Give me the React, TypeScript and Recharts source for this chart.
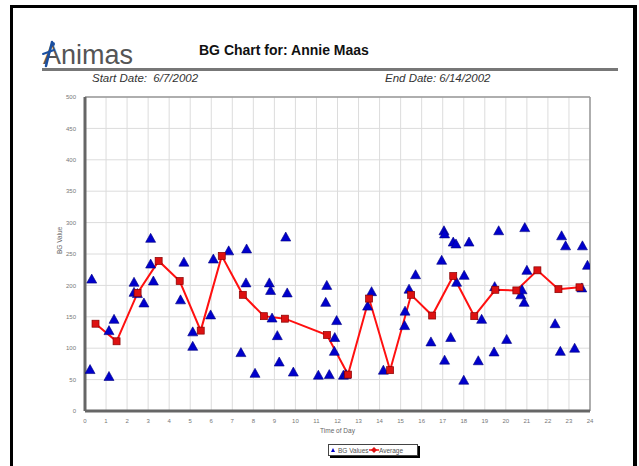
import React from "react";
import {
  ComposedChart,
  Scatter,
  Line,
  XAxis,
  YAxis,
  CartesianGrid,
  ReferenceLine,
} from "recharts";

const bgTimes = [
  0.24, 0.32, 1.14, 1.14, 1.38, 2.33, 2.33, 2.49, 2.8, 3.12, 3.12, 3.25, 4.54, 4.7,
  5.12, 5.12, 5.97, 6.1, 6.83, 7.41, 7.65, 7.68, 8.08, 8.76, 8.82, 8.89, 9.14, 9.23,
  9.54, 9.61, 9.9, 11.09, 11.44, 11.49, 11.61, 11.85, 11.87, 11.96, 12.28, 12.4,
  13.43, 13.62, 14.18, 15.19, 15.21, 15.4, 15.71, 16.44, 16.95, 17.06, 17.09, 17.09,
  17.38, 17.5, 17.63, 17.66, 18.0, 18.02, 18.25, 18.69, 18.85, 19.44, 19.47, 19.66,
  20.04, 20.71, 20.77, 20.87, 20.9, 21.0, 22.34, 22.59, 22.65, 22.84, 23.27, 23.61,
  23.64, 23.88,
];
const bgValues = [
  66, 210, 55, 128, 146, 205, 189, 187, 172, 275, 234, 207, 177, 237,
  126, 103, 153, 242, 255, 93, 204, 258, 60, 204, 192, 148, 120, 78,
  277, 188, 62, 57, 173, 200, 58, 95, 117, 144, 57, 58,
  167, 190, 65, 136, 159, 194, 217, 110, 240, 287, 282, 81,
  117, 269, 266, 205, 49, 216, 269, 80, 146, 94, 198, 287,
  114, 185, 193, 173, 292, 224, 139, 95, 279, 263, 100, 196,
  263, 232,
];
const avgTimes = [
  0.5, 1.5, 2.5, 3.5, 4.5, 5.5, 6.5, 7.5, 8.5, 9.5, 11.5, 12.5, 13.5, 14.5, 15.5,
  16.5, 17.5, 18.5, 19.5, 20.5, 21.5, 22.5, 23.5,
];
const avgValues = [
  139, 111, 188, 239, 207, 128, 247, 185, 151, 147, 121, 58, 179, 65, 185,
  152, 215, 151, 193, 192, 224, 194, 197,
];
const xTicks = [
  0, 1, 2, 3, 4, 5, 6, 7, 8, 9, 10, 11, 12, 13, 14, 15, 16, 17, 18, 19, 20, 21, 22, 23, 24,
];
const yTicks = [0, 50, 100, 150, 200, 250, 300, 350, 400, 450, 500];

const bgData = bgTimes.map((h, i) => ({ h, v: bgValues[i] }));
const avgData = avgTimes.map((h, i) => ({ h, v: avgValues[i] }));

const Triangle = (props: any) => {
  const { cx, cy } = props;
  if (cx == null || cy == null) return null;
  return (
    <polygon
      points={`${cx},${cy - 5} ${cx - 5},${cy + 4} ${cx + 5},${cy + 4}`}
      fill="#0000cc"
      stroke="#000080"
      strokeWidth={0.6}
    />
  );
};

const SquareDot = (props: any) => {
  const { cx, cy, index } = props;
  if (cx == null || cy == null) return null;
  return (
    <rect
      key={`sq-${index}`}
      x={cx - 3.5}
      y={cy - 3.5}
      width={7}
      height={7}
      fill="#dd1111"
      stroke="#880000"
      strokeWidth={0.7}
    />
  );
};

const font = "'Liberation Sans', Arial, sans-serif";

export default function App() {
  return (
    <div
      style={{
        position: "absolute",
        left: 0,
        top: 0,
        width: 639,
        height: 466,
        background: "#fff",
        overflow: "hidden",
        fontFamily: font,
      }}
    >
      {/* frame */}
      <div style={{ position: "absolute", left: 10, top: 5, width: 627, height: 3, background: "#000" }} />
      <div style={{ position: "absolute", left: 10, top: 5, width: 3, height: 470, background: "#000" }} />
      <div style={{ position: "absolute", left: 633, top: 5, width: 4, height: 470, background: "#000" }} />

      {/* logo */}
      <svg style={{ position: "absolute", left: 38, top: 36 }} width={110} height={34}>
        <text x={5} y={28} fontFamily={font} fontSize={27} fill="#555">
          Animas
        </text>
        <path d="M14 6 L8 30" stroke="#1a4fa0" strokeWidth={2.5} strokeLinecap="round" />
        <path d="M5 18 L16 14" stroke="#1a4fa0" strokeWidth={2} strokeLinecap="round" />
        <circle cx={15} cy={8} r={2} fill="#1a4fa0" />
      </svg>

      {/* title */}
      <div
        style={{
          position: "absolute",
          left: 199,
          top: 42,
          fontSize: 14,
          fontWeight: "bold",
          color: "#111",
          whiteSpace: "nowrap",
        }}
      >
        BG Chart for: Annie Maas
      </div>

      {/* rule */}
      <div style={{ position: "absolute", left: 42, top: 68, width: 576, height: 3, background: "#777" }} />

      {/* dates */}
      <div
        style={{
          position: "absolute",
          left: 92,
          top: 72,
          fontSize: 11.5,
          fontStyle: "italic",
          color: "#333",
          whiteSpace: "pre",
        }}
      >
        {"Start Date:  6/7/2002"}
      </div>
      <div
        style={{
          position: "absolute",
          left: 385,
          top: 72,
          fontSize: 11.5,
          fontStyle: "italic",
          color: "#333",
          whiteSpace: "pre",
        }}
      >
        {"End Date: 6/14/2002"}
      </div>

      {/* chart */}
      <div style={{ position: "absolute", left: 0, top: 0 }}>
        <ComposedChart
          width={639}
          height={466}
          margin={{ left: 55, right: 49, top: 97, bottom: 25 }}
        >
          <CartesianGrid stroke="#dcdcdc" strokeWidth={1} />
          <XAxis
            type="number"
            dataKey="h"
            domain={[0, 24]}
            ticks={xTicks}
            interval={0}
            allowDataOverflow
            height={30}
            axisLine={{ stroke: "#666", strokeWidth: 3 }}
            tickLine={false}
            tickMargin={2}
            tick={{ fontSize: 6, fill: "#777", fontFamily: font }}
            label={{
              value: "Time of Day",
              position: "insideTop",
              offset: 17,
              fontSize: 6.5,
              fill: "#666",
              fontFamily: font,
            }}
          />
          <YAxis
            type="number"
            dataKey="v"
            domain={[0, 500]}
            ticks={yTicks}
            interval={0}
            allowDataOverflow
            width={30}
            axisLine={{ stroke: "#666", strokeWidth: 3 }}
            tickLine={false}
            tickMargin={3}
            tick={{ fontSize: 6, fill: "#777", fontFamily: font }}
            label={{
              value: "BG Value",
              angle: -90,
              position: "insideLeft",
              offset: 5,
              fontSize: 6.5,
              fill: "#666",
              fontFamily: font,
            }}
          />
          <ReferenceLine y={500} stroke="#999" strokeWidth={1.5} />
          <ReferenceLine x={24} stroke="#999" strokeWidth={1.5} />
          <Scatter
            name="BG Values"
            data={bgData}
            dataKey="v"
            shape={Triangle}
            isAnimationActive={false}
          />
          <Line
            name="Average"
            data={avgData}
            dataKey="v"
            type="linear"
            stroke="#ff1010"
            strokeWidth={2}
            dot={SquareDot}
            activeDot={false}
            isAnimationActive={false}
          />
        </ComposedChart>
      </div>

      {/* legend */}
      <div
        style={{
          position: "absolute",
          left: 328,
          top: 444,
          width: 88,
          height: 10,
          border: "1px solid #444",
          background: "#fff",
          boxShadow: "2px 2px 0 #000",
          fontSize: 6.5,
          color: "#555",
          whiteSpace: "nowrap",
          lineHeight: "10px",
        }}
      >
        <svg width={88} height={10} style={{ position: "absolute", left: 0, top: 0 }}>
          <polygon points="4,3 2,7 6,7" fill="#0000cc" />
          <text x={9} y={7.5} fontSize={6.5} fill="#555" fontFamily={font}>
            BG Values
          </text>
          <line x1={40} y1={5} x2={50} y2={5} stroke="#ff1010" strokeWidth={1.5} />
          <polygon points="45,2 48,5 45,8 42,5" fill="#dd1111" />
          <text x={50} y={7.5} fontSize={6.5} fill="#555" fontFamily={font}>
            Average
          </text>
        </svg>
      </div>
    </div>
  );
}
